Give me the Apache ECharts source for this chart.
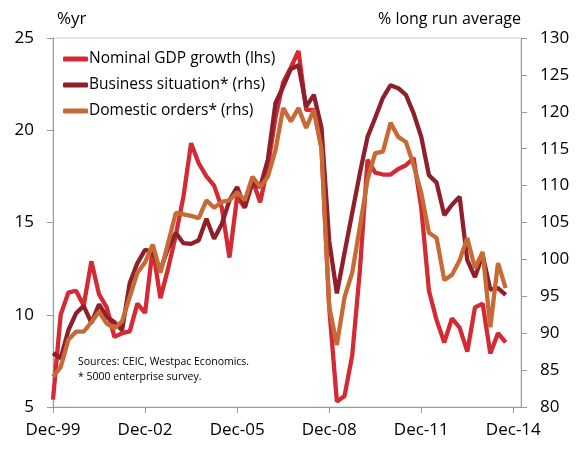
<!DOCTYPE html>
<html><head><meta charset="utf-8">
<script src="https://cdn.jsdelivr.net/npm/echarts@6/dist/echarts.min.js"></script>
<style>html,body{margin:0;padding:0;background:#fff}#c{width:586px;height:463px}</style>
</head><body><div id="c"></div>
<script>
var categories = ["Dec-99","Mar-00","Jun-00","Sep-00","Dec-00","Mar-01","Jun-01","Sep-01","Dec-01","Mar-02","Jun-02","Sep-02",
"Dec-02","Mar-03","Jun-03","Sep-03","Dec-03","Mar-04","Jun-04","Sep-04","Dec-04","Mar-05","Jun-05","Sep-05",
"Dec-05","Mar-06","Jun-06","Sep-06","Dec-06","Mar-07","Jun-07","Sep-07","Dec-07","Mar-08","Jun-08","Sep-08",
"Dec-08","Mar-09","Jun-09","Sep-09","Dec-09","Mar-10","Jun-10","Sep-10","Dec-10","Mar-11","Jun-11","Sep-11",
"Dec-11","Mar-12","Jun-12","Sep-12","Dec-12","Mar-13","Jun-13","Sep-13","Dec-13","Mar-14","Jun-14","Sep-14",
"Dec-14","Mar-15"];
var gdpGrowth = [5.4,10.0,11.2,11.3,10.5,12.9,11.1,10.4,8.8,9.0,9.1,10.6,
10.1,13.6,10.9,12.5,14.3,16.4,19.3,18.2,17.5,17.0,15.8,13.1,
16.4,15.8,17.3,16.1,18.0,20.7,22.6,23.4,24.3,21.1,21.1,19.0,
10.4,5.3,5.6,7.8,12.4,18.4,17.7,17.6,17.6,17.9,18.1,18.5,
15.8,11.3,9.7,8.5,9.8,9.3,8.0,10.4,10.6,7.9,9.0,8.5];
var businessSituation = [87.3,86.6,90.4,92.7,93.7,91.4,93.9,92.2,91.5,90.4,96.8,99.5,
101.3,101.0,98.6,101.5,103.6,102.2,102.1,102.6,105.5,102.8,104.8,108.0,
109.8,107.1,110.4,109.8,113.5,121.2,123.4,125.8,126.3,120.7,122.3,117.8,
102.5,95.4,100.9,106.3,111.7,116.6,119.2,121.9,123.6,123.2,122.3,119.8,
116.6,111.4,110.4,106.0,107.4,108.5,99.9,97.6,100.6,95.9,96.1,95.2];
var domesticOrders = [84.1,85.4,89.1,90.2,90.2,91.5,92.9,91.3,90.7,91.6,94.9,98.2,
99.6,102.0,98.2,102.2,106.3,106.1,105.9,105.6,108.0,107.0,107.8,108.0,
109.1,108.0,111.2,109.8,111.2,114.8,120.5,118.7,120.5,117.8,120.3,115.0,
93.6,88.4,94.9,98.2,104.4,110.8,114.4,114.6,118.5,116.6,115.9,112.8,
109.0,103.6,102.9,97.2,97.9,99.9,102.9,98.8,101.0,90.8,99.5,96.1];
var seriesNames = ["Nominal GDP growth (lhs)","Business situation* (rhs)","Domestic orders* (rhs)"];
var colors = ["#D42A34","#8E1F2B","#C76A36"];

var FONT = "'Open Sans', 'Noto Sans', sans-serif";
var chart = echarts.init(document.getElementById('c'), null, {renderer: 'canvas'});
var axisCommon = {
  axisLine: {show: true, lineStyle: {color: '#9a9a9a', width: 1}},
  axisTick: {show: true, inside: false, length: 6, lineStyle: {color: '#9a9a9a'}},
  splitLine: {show: false},
  axisLabel: {color: '#000', fontSize: 17, fontFamily: FONT, margin: 19}
};
chart.setOption({
  animation: false,
  color: colors,
  grid: {left: 53, right: 65, top: 38, bottom: 56, show: true, borderColor: '#cfcfcf', borderWidth: 1, containLabel: false},
  legend: {
    orient: 'vertical', left: 58, top: 46, itemGap: 10, itemWidth: 25, itemHeight: 5,
    icon: 'roundRect',
    textStyle: {color: '#000', fontSize: 15.5, fontFamily: FONT, lineHeight: 16, padding: [0,0,0,-4]},
    data: seriesNames
  },
  xAxis: {
    type: 'category', data: categories, boundaryGap: false,
    axisLine: {show: true, lineStyle: {color: '#9a9a9a'}},
    axisTick: {show: true, interval: 11, length: 6, lineStyle: {color: '#9a9a9a'}},
    axisLabel: {interval: 11, color: '#000', fontSize: 17, fontFamily: FONT, margin: 15},
    splitLine: {show: false}
  },
  yAxis: [
    Object.assign({type: 'value', min: 5, max: 25, interval: 5, position: 'left'}, axisCommon),
    Object.assign({type: 'value', min: 80, max: 130, interval: 5, position: 'right'}, axisCommon)
  ],
  graphic: [
    {type: 'text', left: 57, top: 11, style: {text: '%yr', fill: '#000', font: '17px ' + FONT}},
    {type: 'text', right: 65, top: 11, style: {text: '% long run average', fill: '#000', font: '16px ' + FONT, align: 'right'}},
    {type: 'text', left: 78, top: 355, style: {text: 'Sources: CEIC, Westpac Economics.\n* 5000 enterprise survey.', fill: '#000', font: '10.5px ' + FONT, lineHeight: 15}}
  ],
  series: [
    {name: seriesNames[0], type: 'line', yAxisIndex: 0, data: gdpGrowth, symbol: 'none', lineStyle: {width: 4.3, color: colors[0]}, z: 2},
    {name: seriesNames[1], type: 'line', yAxisIndex: 1, data: businessSituation, symbol: 'none', lineStyle: {width: 4.3, color: colors[1]}, z: 3},
    {name: seriesNames[2], type: 'line', yAxisIndex: 1, data: domesticOrders, symbol: 'none', lineStyle: {width: 4.3, color: colors[2]}, z: 4}
  ]
});
</script></body></html>
